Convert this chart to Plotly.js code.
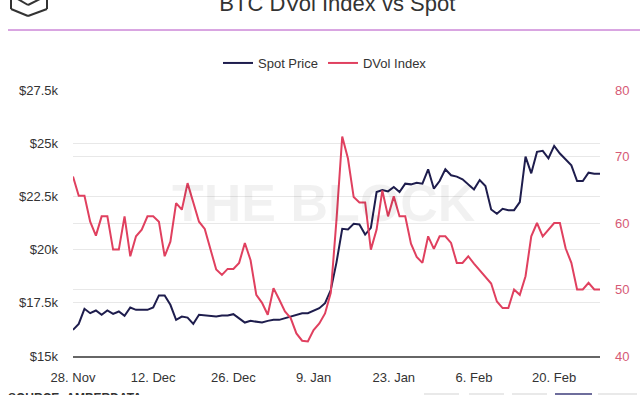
<!DOCTYPE html>
<html>
<head>
<meta charset="utf-8">
<script src="https://cdn.plot.ly/plotly-3.0.1.min.js"></script>
<style>html,body{margin:0;padding:0;background:#fff}#chart{width:640px;height:395px}</style>
</head>
<body>
<div id="chart"></div>
<script>
// ---- data (daily, 28 Nov 2022 .. 28 Feb 2023) ----
const startDate = "2022-11-28";
const spotPrice = [
  16226,16509,17217,17012,17138,16934,17138,16981,17091,16887,
  17280,17170,17170,17170,17280,17846,17846,17406,16698,16855,
  16807,16509,16934,16910,16902,16855,16902,16902,16965,16777,
  16572,16651,16620,16572,16651,16698,16698,16777,16887,16934,
  17012,17012,17138,17248,17484,18100,19400,20975,20943,21210,
  21179,20708,21022,22704,22799,22736,22940,22704,23098,23066,
  23145,23098,23774,22862,23223,23774,23491,23428,23302,23066,
  22830,23270,22987,21887,21682,21919,21855,21855,22232,24372,
  23585,24592,24639,24292,24874,24513,24214,23962,23223,23223,
  23616,23569,23569
];
const dvolIndex = [
  67.0,64.1,64.1,60.2,58.1,61.0,61.0,56.0,56.0,61.0,
  55.0,58.0,59.0,61.0,61.0,60.2,55.0,57.2,63.0,62.0,
  66.0,63.0,60.2,59.1,56.0,53.0,52.2,53.1,53.1,54.0,
  57.0,54.4,49.2,48.0,46.2,50.2,48.5,46.7,45.7,43.4,
  42.3,42.2,43.9,44.9,46.4,49.5,60.5,73.0,69.7,63.9,
  63.1,63.1,56.0,59.0,64.9,61.0,64.0,61.0,61.0,56.9,
  54.9,54.0,58.0,56.1,58.0,58.0,57.0,54.0,54.0,55.0,
  53.9,52.9,51.9,50.9,48.2,47.2,47.2,50.0,49.2,52.0,
  58.0,60.0,58.0,59.0,60.0,60.0,56.2,54.0,50.0,50.0,
  51.0,50.0,50.0
];
const xTickVals = ["2022-11-28","2022-12-12","2022-12-26","2023-01-09","2023-01-23","2023-02-06","2023-02-20"];
const xTickText = ["28. Nov","12. Dec","26. Dec","9. Jan","23. Jan","6. Feb","20. Feb"];
const leftTickVals = [15000,17500,20000,22500,25000,27500];
const leftTickText = ["$15k","$17.5k","$20k","$22.5k","$25k","$27.5k"];
const rightTickVals = [40,50,60,70,80];
const seriesNames = ["Spot Price","DVol Index"];
const chartTitle = "BTC DVol Index vs Spot";
const sourceText = "SOURCE: AMBERDATA";

// daily date categories
const dates = [];
{
  const d0 = new Date(startDate + "T00:00:00Z");
  for (let i = 0; i < spotPrice.length; i++) {
    const d = new Date(d0.getTime() + i * 86400000);
    dates.push(d.toISOString().slice(0, 10));
  }
}

// ---- layout helpers (pixel -> paper) ----
const M = {l: 73, r: 40, t: 90, b: 39};
const W = 640, H = 395;
const pw = W - M.l - M.r, ph = H - M.t - M.b;
const px = x => (x - M.l) / pw;
const py = y => (H - M.b - y) / ph;
function seg(x0, y0, x1, y1, color, width) {
  return {type: "line", xref: "paper", yref: "paper",
    x0: px(x0), y0: py(y0), x1: px(x1), y1: py(y1),
    line: {color: color, width: width}};
}
function box(x0, y0, x1, y1, color) {
  return {type: "rect", xref: "paper", yref: "paper",
    x0: px(x0), y0: py(y0), x1: px(x1), y1: py(y1),
    fillcolor: color, line: {width: 0}};
}

const font = "'Liberation Sans', Arial, sans-serif";
const narrow = "'Liberation Sans Narrow', 'Liberation Sans', Arial, sans-serif";

const traces = [
  {x: dates, y: spotPrice, name: seriesNames[0], type: "scatter", mode: "lines",
   line: {color: "#1e1d4d", width: 2}, yaxis: "y"},
  {x: dates, y: dvolIndex, name: seriesNames[1], type: "scatter", mode: "lines",
   line: {color: "#e0405f", width: 2}, yaxis: "y2"}
];

const layout = {
  width: W, height: H,
  margin: M,
  paper_bgcolor: "#ffffff",
  plot_bgcolor: "#ffffff",
  font: {family: font, size: 13, color: "#333333"},
  title: {text: chartTitle, font: {family: font, size: 22, color: "#333333"},
          x: 0.527, xanchor: "center", xref: "container",
          y: 1 - 11 / H, yanchor: "bottom", yref: "container"},
  showlegend: true,
  legend: {orientation: "h", x: px(325), xanchor: "center", y: py(63), yanchor: "middle",
           font: {family: narrow, size: 13, color: "#333333"}, itemwidth: 30,
           bgcolor: "rgba(0,0,0,0)"},
  xaxis: {type: "date", range: [dates[0], dates[dates.length - 1]],
          tickvals: xTickVals, ticktext: xTickText, showgrid: false,
          showline: true, linecolor: "#666666", linewidth: 2, ticks: "",
          ticklabelstandoff: 8, tickfont: {size: 13, color: "#333333"}, zeroline: false},
  yaxis: {range: [15000, 27500], tickvals: leftTickVals, ticktext: leftTickText,
          showgrid: true, gridcolor: "#e8e8e8", gridwidth: 1, zeroline: false,
          showline: false, ticks: "", ticklabelstandoff: 14,
          tickfont: {size: 13, color: "#333333"}},
  yaxis2: {range: [40, 80], tickvals: rightTickVals, overlaying: "y", side: "right",
           showgrid: true, gridcolor: "#e8e8e8", gridwidth: 1, zeroline: false,
           showline: false, ticks: "", ticklabelstandoff: 14,
           tickfont: {size: 13, color: "#d65a76"}},
  shapes: [
    seg(8, 30, 640, 30, "#b34cc4", 1),
    // cube logo
    seg(11, -2, 11, 9, "#333333", 2),
    seg(11, 9, 28, 16, "#333333", 2),
    seg(28, 16, 47, 9, "#333333", 2),
    seg(47, 9, 47, -2, "#333333", 2),
    seg(16, -2, 28, 5, "#333333", 2),
    seg(28, 5, 42, -2, "#333333", 2),
    // footer buttons
    box(424, 393, 459, 400, "#e9e9e9"),
    box(469, 393, 504, 400, "#e9e9e9"),
    box(512, 393, 547, 400, "#e9e9e9"),
    box(555, 393, 592, 400, "#6e6d9c"),
    box(598, 393, 637, 400, "#e9e9e9")
  ],
  annotations: [
    {text: "THE BLOCK", xref: "paper", yref: "paper", x: px(324), y: py(203),
     xanchor: "center", yanchor: "middle", showarrow: false,
     font: {family: font, size: 52, color: "rgba(0,0,0,0.055)", weight: "bold"}},
    {text: "<b>" + sourceText + "</b>", xref: "paper", yref: "paper", x: px(6), y: py(389),
     xanchor: "left", yanchor: "top", showarrow: false,
     font: {family: font, size: 12, color: "#333333"}}
  ]
};

Plotly.newPlot("chart", traces, layout, {displayModeBar: false, staticPlot: true});
</script>
</body>
</html>
